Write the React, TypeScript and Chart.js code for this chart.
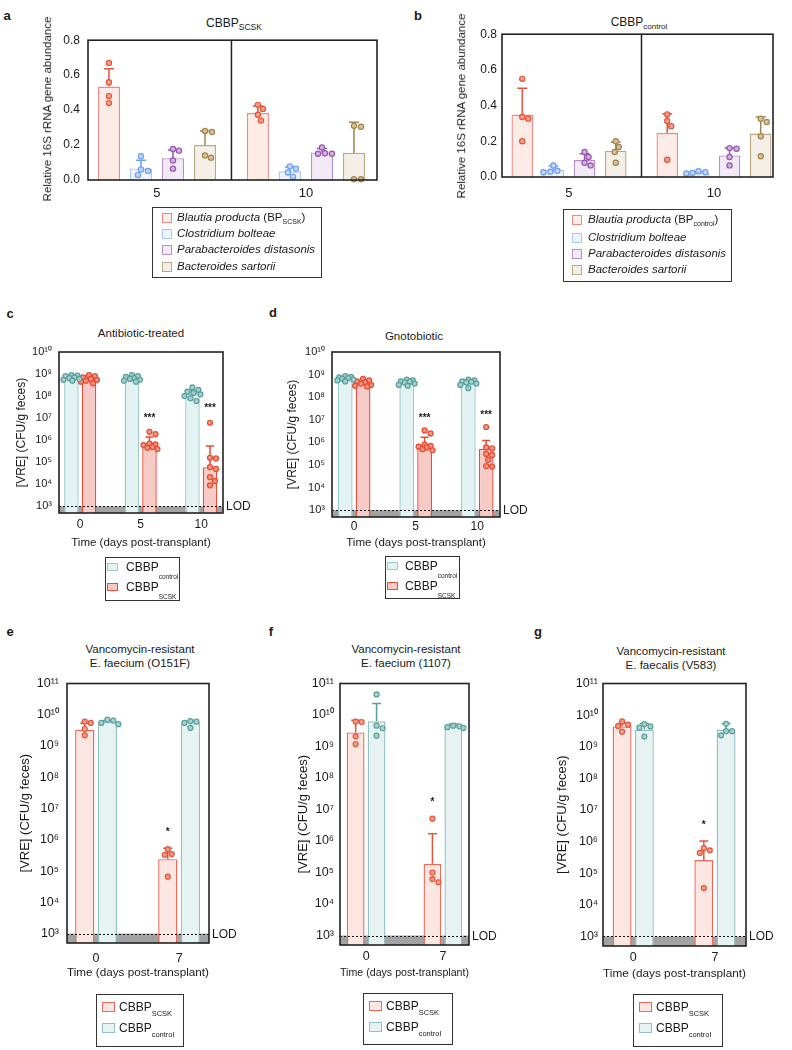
import React, { useEffect, useRef } from "react";
import { Chart, registerables } from "chart.js";
Chart.register(...registerables);

const FONT = "'Liberation Sans', Arial, Helvetica, sans-serif";
const INK = "#1a1a1a";

// ================= DATA =================
// Panels a & b : relative 16S rRNA gene abundance
const abDays = ["5", "10"];
const abTicks = [0, 0.2, 0.4, 0.6, 0.8];

// a : CBBP SCSK
const aBlautiaMean = [0.535, 0.383];
const aBlautiaErr = [0.637, 0.424];
const aBlautiaPts = [[0.67, 0.56, 0.48, 0.44], [0.43, 0.407, 0.373, 0.34]];
const aClostMean = [0.066, 0.05];
const aClostErr = [0.113, 0.075];
const aClostPts = [[0.136, 0.06, 0.052, 0.028], [0.078, 0.065, 0.043, 0.018]];
const aParaMean = [0.125, 0.158];
const aParaErr = [0.172, 0.18];
const aParaPts = [[0.177, 0.168, 0.112, 0.065], [0.186, 0.153, 0.15, 0.15]];
const aBactMean = [0.2, 0.155];
const aBactErr = [0.28, 0.33];
const aBactPts = [[0.28, 0.275, 0.14, 0.128], [0.31, 0.305, 0.004, 0.004]];

// b : CBBP control
const bBlautiaMean = [0.35, 0.246];
const bBlautiaErr = [0.497, 0.355];
const bBlautiaPts = [[0.55, 0.336, 0.327, 0.2], [0.351, 0.314, 0.285, 0.097]];
const bClostMean = [0.04, 0.024];
const bClostErr = [0.062, 0.03];
const bClostPts = [[0.065, 0.035, 0.03, 0.027], [0.032, 0.027, 0.022, 0.02]];
const bParaMean = [0.095, 0.121];
const bParaErr = [0.13, 0.162];
const bParaPts = [[0.14, 0.112, 0.08, 0.065], [0.162, 0.158, 0.112, 0.065]];
const bBactMean = [0.147, 0.243];
const bBactErr = [0.196, 0.336];
const bBactPts = [[0.2, 0.168, 0.14, 0.08], [0.327, 0.308, 0.228, 0.116]];

// Panels c & d : [VRE] after transplant
const cdDays = ["0", "5", "10"];
const cdTicks = [1e3, 1e4, 1e5, 1e6, 1e7, 1e8, 1e9, 1e10];
const cdSig = ["", "***", "***"];

const cCtrlMean = [7e8, 6.5e8, 1.3e8];
const cCtrlErr = [8.5e8, 7.8e8, 1.7e8];
const cCtrlPts = [
  [9e8, 8.5e8, 8e8, 7e8, 6.5e8, 6e8, 5.5e8, 5e8],
  [9e8, 8e8, 7.5e8, 6.5e8, 6e8, 5.5e8, 5e8, 4.5e8],
  [2.5e8, 1.9e8, 1.6e8, 1.4e8, 1.2e8, 1e8, 8e7, 6e7],
];
const cScskMean = [6.5e8, 7.5e5, 6e4];
const cScskErr = [8.3e8, 1.4e6, 5.5e5];
const cScskPts = [
  [9e8, 8e8, 7e8, 6e8, 5.5e8, 5e8, 4.5e8, 3.8e8],
  [2.4e6, 1.9e6, 7e5, 6.5e5, 6e5, 5e5, 4.5e5, 4e5],
  [6.2e6, 1.6e5, 1.5e5, 6e4, 5e4, 2.1e4, 1.4e4, 9e3],
];

const dCtrlMean = [6.3e8, 4.3e8, 4.4e8];
const dCtrlErr = [7.5e8, 5.2e8, 5.2e8];
const dCtrlPts = [
  [8.5e8, 8e8, 7.5e8, 7e8, 6.5e8, 6e8, 5.5e8, 5e8],
  [6e8, 5.5e8, 5e8, 4.8e8, 4.5e8, 4e8, 3.5e8, 3.2e8],
  [6e8, 5.5e8, 5e8, 4.8e8, 4.5e8, 4e8, 3.5e8, 2.5e8],
];
const dScskMean = [4e8, 8e5, 5.2e5];
const dScskErr = [5e8, 1.7e6, 1.2e6];
const dScskPts = [
  [6.5e8, 5.5e8, 5e8, 4.5e8, 4e8, 3.5e8, 3.2e8, 3e8],
  [3.4e6, 2.5e6, 8e5, 7e5, 6.5e5, 6e5, 5e5, 4.5e5],
  [4.8e6, 6e5, 5.5e5, 3.1e5, 2.8e5, 1.7e5, 9e4, 8.5e4],
];

// Panels e, f, g : different VRE strains
const efgDays = ["0", "7"];
const efgTicks = [1e3, 1e4, 1e5, 1e6, 1e7, 1e8, 1e9, 1e10, 1e11];
const efgSig = ["", "*"];
const lodValue = 1e3;

const eScskMean = [3.3e9, 2.4e5];
const eScskErr = [5.4e9, 5.4e5];
const eScskPts = [[6e9, 5.5e9, 3.5e9, 2.2e9], [5e5, 3.5e5, 3.3e5, 6.6e4]];
const eCtrlMean = [5.9e9, 5.8e9];
const eCtrlErr = [6.5e9, 6.3e9];
const eCtrlPts = [[7e9, 6.5e9, 5.5e9, 5e9], [6.3e9, 6e9, 5.5e9, 3.8e9]];

const fScskMean = [2.8e9, 1.9e5];
const fScskErr = [6.8e9, 1.7e6];
const fScskPts = [[6.2e9, 6e9, 2.1e9, 1.2e9], [5.1e6, 1e5, 6.2e4, 4.9e4]];
const fCtrlMean = [6.3e9, 4.8e9];
const fCtrlErr = [2.3e10, 5.2e9];
const fCtrlPts = [[4.5e10, 4.6e9, 3.8e9, 2.2e9], [4.6e9, 4.4e9, 4.1e9, 3.9e9]];

const gScskMean = [4.4e9, 2.6e5];
const gScskErr = [5.4e9, 1.05e6];
const gScskPts = [[6.3e9, 5e9, 4.5e9, 3e9], [6.2e5, 5.3e5, 4.4e5, 3.4e4]];
const gCtrlMean = [3.5e9, 3.5e9];
const gCtrlErr = [5.4e9, 5.4e9];
const gCtrlPts = [[5.2e9, 4.4e9, 4e9, 2.1e9], [5.3e9, 3.1e9, 3.1e9, 2.3e9]];

// ================= STYLES =================
const S_RED_AB = { border: "#f08a84", fill: "#fcebe6", ptStroke: "#e2553d", ptFill: "#f3a08c" };
const S_BLUE_AB = { border: "#a8c8f4", fill: "#edf4fd", ptStroke: "#6c9ff0", ptFill: "#c2d8f8" };
const S_PURP_AB = { border: "#b98fcc", fill: "#f3eaf7", ptStroke: "#9558ae", ptFill: "#d2b2e0" };
const S_BROWN_AB = { border: "#bda784", fill: "#f5f0e7", ptStroke: "#a3844e", ptFill: "#d6c29c" };
const S_TEAL_CD = { border: "#9ccac8", fill: "#e3f2f2", ptStroke: "#5a9e9b", ptFill: "#a2d1ce" };
const S_RED_CD = { border: "#ea4d3e", fill: "#f7cbc5", ptStroke: "#e34b33", ptFill: "#f3947e" };
const S_RED_EFG = { border: "#ec6a5a", fill: "#fbe6e1", ptStroke: "#e2573d", ptFill: "#f19c86" };
const S_TEAL_EFG = { border: "#92c2bf", fill: "#e7f3f2", ptStroke: "#5c9f9c", ptFill: "#a6d2cf" };

const SUP = "⁰¹²³⁴⁵⁶⁷⁸⁹";
const powLabel = (v: number) =>
  "10" + String(Math.round(Math.log10(v))).split("").map((d) => SUP[+d]).join("");

// ================= CHART PANEL =================
type Series = { mean: number[]; err: number[]; pts: number[][]; style: any };
type Spec = {
  box: number[];
  plot: number[];
  xLabels: string[];
  xRange: number[];
  yLog: boolean;
  yRange: number[];
  yTicks: number[];
  yTitle: string;
  yTitleX: number;
  yTitleFont: number;
  yTitleHtml?: boolean;
  xTitle?: string;
  xTitleY?: number;
  xTitleFont?: number;
  yTickFont: number;
  xTickFont: number;
  yPad: number;
  xPad: number;
  series: Series[];
  catPct: number;
  barPct: number;
  r: number;
  cap: number;
  lod?: number;
  divider?: number;
  sig?: string[];
  sigSeries?: number;
  sigGap?: number;
};

function ChartPanel({ spec }: { spec: Spec }) {
  const ref = useRef<HTMLCanvasElement | null>(null);
  const [bl, bt, br, bb] = spec.box;
  const [pl, pt, pr, pb] = spec.plot;
  const W = br - bl;
  const H = bb - bt;

  useEffect(() => {
    if (!ref.current) return;
    const nS = spec.series.length;
    const yTitleLH = spec.yTitleFont * 1.2;
    const yW = pl - spec.yTitleX + yTitleLH / 2;
    const xH = spec.xTitle ? (spec.xTitleY as number) - pb + (spec.xTitleFont as number) * 0.6 : 24;
    const datasets: any[] = [];
    spec.series.forEach((s) => {
      datasets.push({
        type: "bar",
        order: 2,
        data: s.mean.map((m, i) => ({ x: i, y: m })),
        backgroundColor: s.style.fill,
        borderColor: s.style.border,
        borderWidth: 1.4,
        categoryPercentage: spec.catPct,
        barPercentage: spec.barPct,
        errTops: s.err,
        errColor: s.style.ptStroke,
      });
    });
    spec.series.forEach((s, si) => {
      const off = ((si - (nS - 1) / 2) * spec.catPct) / nS;
      const data: any[] = [];
      s.pts.forEach((vals, i) => vals.forEach((v) => data.push({ x: i + off, y: v, cx: i + off, g: i })));
      datasets.push({
        type: "scatter",
        order: 1,
        data,
        pointRadius: spec.r,
        pointBackgroundColor: s.style.ptFill,
        pointBorderColor: s.style.ptStroke,
        pointBorderWidth: 1.2,
        clip: false,
      });
    });

    const decor = {
      id: "decor",
      beforeDatasetsDraw(chart: any) {
        if (spec.lod === undefined) return;
        const { ctx, chartArea: ca } = chart;
        const y = chart.scales.y.getPixelForValue(spec.lod);
        ctx.save();
        ctx.fillStyle = "#a2a2a2";
        ctx.fillRect(ca.left, y, ca.right - ca.left, ca.bottom - y);
        ctx.restore();
      },
      afterDatasetDraw(chart: any, args: any) {
        const ds = chart.data.datasets[args.index];
        if (ds.type !== "bar") return;
        const ctx = chart.ctx;
        const ys = chart.scales.y;
        ctx.save();
        ctx.strokeStyle = ds.errColor;
        ctx.lineWidth = 1.5;
        args.meta.data.forEach((bar: any, i: number) => {
          const top = ys.getPixelForValue(ds.errTops[i]);
          ctx.beginPath();
          ctx.moveTo(bar.x, bar.y);
          ctx.lineTo(bar.x, top);
          ctx.moveTo(bar.x - spec.cap, top);
          ctx.lineTo(bar.x + spec.cap, top);
          ctx.stroke();
        });
        ctx.restore();
      },
      afterDatasetsDraw(chart: any) {
        const { ctx, chartArea: ca } = chart;
        ctx.save();
        if (spec.lod !== undefined) {
          const y = Math.round(chart.scales.y.getPixelForValue(spec.lod)) + 0.5;
          ctx.strokeStyle = "#111";
          ctx.lineWidth = 1;
          ctx.setLineDash([2, 2]);
          ctx.beginPath();
          ctx.moveTo(ca.left, y);
          ctx.lineTo(ca.right, y);
          ctx.stroke();
          ctx.setLineDash([]);
          ctx.fillStyle = INK;
          ctx.font = `12px ${FONT}`;
          ctx.textAlign = "left";
          ctx.textBaseline = "middle";
          ctx.fillText("LOD", ca.right + 3, y);
        }
        if (spec.divider !== undefined) {
          const x = chart.scales.x.getPixelForValue(spec.divider);
          ctx.strokeStyle = "#222";
          ctx.lineWidth = 1.5;
          ctx.beginPath();
          ctx.moveTo(x, ca.top);
          ctx.lineTo(x, ca.bottom);
          ctx.stroke();
        }
        ctx.strokeStyle = "#222";
        ctx.lineWidth = 1.6;
        ctx.strokeRect(ca.left, ca.top, ca.right - ca.left, ca.bottom - ca.top);
        if (spec.sig) {
          const si = spec.sigSeries as number;
          const ser = spec.series[si];
          const meta = chart.getDatasetMeta(si);
          ctx.fillStyle = INK;
          ctx.font = `bold 10px ${FONT}`;
          ctx.textAlign = "center";
          ctx.textBaseline = "middle";
          spec.sig.forEach((s, i) => {
            if (!s) return;
            const top = Math.max(ser.err[i], ...ser.pts[i]);
            const y = chart.scales.y.getPixelForValue(top) - (spec.sigGap as number);
            ctx.fillText(s, meta.data[i].x, y);
          });
        }
        ctx.restore();
      },
    };

    const chart = new Chart(ref.current, {
      type: "bar",
      data: { datasets },
      plugins: [decor],
      options: {
        animation: false,
        responsive: false,
        events: [],
        layout: {
          padding: {
            left: pl - bl - yW,
            top: pt - bt,
            right: br - pr,
            bottom: bb - pb - xH,
          },
        },
        plugins: { legend: { display: false }, tooltip: { enabled: false }, title: { display: false } },
        scales: {
          x: {
            type: "linear",
            min: spec.xRange[0],
            max: spec.xRange[1],
            offset: false,
            grid: { display: false, drawTicks: false, offset: false },
            border: { display: false },
            afterBuildTicks: (s: any) => {
              s.ticks = spec.xLabels.map((_, i) => ({ value: i }));
            },
            ticks: {
              autoSkip: false,
              maxRotation: 0,
              padding: spec.xPad,
              color: INK,
              font: { family: FONT, size: spec.xTickFont },
              callback: (v: any) => spec.xLabels[Math.round(v)] ?? "",
            },
            title: spec.xTitle
              ? { display: true, text: spec.xTitle, color: INK, padding: 0, font: { family: FONT, size: spec.xTitleFont } }
              : { display: false },
            afterFit: (s: any) => {
              s.height = xH;
            },
          },
          y: {
            type: spec.yLog ? "logarithmic" : "linear",
            min: spec.yRange[0],
            max: spec.yRange[1],
            grid: { display: false, drawTicks: false },
            border: { display: false },
            afterBuildTicks: (s: any) => {
              s.ticks = spec.yTicks.map((v) => ({ value: v }));
            },
            ticks: {
              autoSkip: false,
              padding: spec.yPad,
              color: INK,
              font: { family: FONT, size: spec.yTickFont },
              callback: (v: any) => (spec.yLog ? powLabel(v) : Number(v).toFixed(1)),
            },
            title: {
              display: !spec.yTitleHtml,
              text: spec.yTitle,
              color: INK,
              padding: 0,
              font: { family: FONT, size: spec.yTitleFont },
            },
            afterFit: (s: any) => {
              s.width = yW;
            },
          },
        },
      } as any,
    });

    // beeswarm placement of the individual points, using the library's scales
    const xs: any = chart.scales.x;
    const ys: any = chart.scales.y;
    const unit = xs.getPixelForValue(1) - xs.getPixelForValue(0);
    const halfBar = (unit * spec.catPct * spec.barPct) / nS / 2;
    const minD = spec.r * 2 + 1;
    const maxOff = Math.round(halfBar + 1);
    chart.data.datasets.forEach((ds: any) => {
      if (ds.type !== "scatter") return;
      const groups: Record<number, any[]> = {};
      ds.data.forEach((p: any) => {
        (groups[p.g] = groups[p.g] || []).push(p);
      });
      Object.values(groups).forEach((list) => {
        const sorted = [...list].sort((a, b) => b.y - a.y);
        const placed: { off: number; py: number }[] = [];
        sorted.forEach((p) => {
          const py = ys.getPixelForValue(p.y);
          let best = 0;
          let bestD = -1;
          for (let k = 0; k <= maxOff * 2; k++) {
            const off = k % 2 === 1 ? (k + 1) / 2 : -k / 2;
            let md = Infinity;
            placed.forEach((q) => {
              md = Math.min(md, Math.hypot(off - q.off, py - q.py));
            });
            if (md >= minD) {
              best = off;
              bestD = Infinity;
              break;
            }
            if (md > bestD) {
              bestD = md;
              best = off;
            }
          }
          placed.push({ off: best, py });
          p.x = p.cx + best / unit;
        });
      });
    });
    chart.update();
    return () => chart.destroy();
  }, []);

  const titleW = 240;
  const titleLH = spec.yTitleFont * 1.2;
  return (
    <>
      <canvas
        ref={ref}
        width={W}
        height={H}
        style={{ position: "absolute", left: bl, top: bt, width: W, height: H }}
      />
      {spec.yTitleHtml && (
        <div
          style={{
            position: "absolute",
            left: spec.yTitleX - titleW / 2,
            top: (pt + pb) / 2 - titleLH / 2,
            width: titleW,
            height: titleLH,
            lineHeight: `${titleLH}px`,
            fontSize: spec.yTitleFont,
            fontFamily: FONT,
            color: INK,
            textAlign: "center",
            whiteSpace: "nowrap",
            transform: "rotate(-90deg)",
          }}
        >
          {spec.yTitle}
        </div>
      )}
    </>
  );
}

// ================= HTML TEXT HELPERS =================
function Txt({ x, y, size = 12, align = "center", bold = false, italic = false, w = 320, children }: any) {
  const left = align === "center" ? x - w / 2 : align === "left" ? x : x - w;
  return (
    <div
      style={{
        position: "absolute",
        left,
        top: y - size * 0.6,
        width: w,
        height: size * 1.2,
        lineHeight: `${size * 1.2}px`,
        fontSize: size,
        fontFamily: FONT,
        textAlign: align,
        fontWeight: bold ? 700 : 400,
        fontStyle: italic ? "italic" : "normal",
        color: INK,
        whiteSpace: "nowrap",
      }}
    >
      {children}
    </div>
  );
}

function Sub({ size, drop, children }: any) {
  return <span style={{ fontSize: size, verticalAlign: `${-drop}px`, fontStyle: "normal" }}>{children}</span>;
}

function Legend({ box, rows, sw, textX, size, italic }: any) {
  const [l, t, r, b] = box;
  return (
    <>
      <div
        style={{
          position: "absolute",
          left: l,
          top: t,
          width: r - l,
          height: b - t,
          border: "1.3px solid #333",
          boxSizing: "border-box",
        }}
      />
      {rows.map((row: any, i: number) => (
        <React.Fragment key={i}>
          <div
            style={{
              position: "absolute",
              left: sw[0],
              top: row.y - sw[2] / 2,
              width: sw[1],
              height: sw[2],
              border: `1.2px solid ${row.style.border}`,
              background: row.style.fill,
              boxSizing: "border-box",
            }}
          />
          <Txt x={textX} y={row.y} size={size} align="left" italic={italic}>
            {row.content}
          </Txt>
        </React.Fragment>
      ))}
    </>
  );
}

// ================= PANEL SPECS =================
const abCommon = {
  xLabels: abDays,
  yLog: false,
  yRange: [0, 0.8],
  yTicks: abTicks,
  yTitle: "Relative 16S rRNA gene abundance",
  yTitleFont: 11.5,
  yTitleHtml: true,
  yTickFont: 12,
  xTickFont: 13,
  catPct: 0.86,
  barPct: 0.69,
  r: 2.6,
  cap: 5,
  divider: 0.5,
};

const specA: Spec = {
  ...abCommon,
  box: [0, 25, 388, 206],
  plot: [88, 37, 377, 180],
  xRange: [-0.463, 1.477],
  yTitleX: 48,
  yPad: 8,
  xPad: 6,
  series: [
    { mean: aBlautiaMean, err: aBlautiaErr, pts: aBlautiaPts, style: S_RED_AB },
    { mean: aClostMean, err: aClostErr, pts: aClostPts, style: S_BLUE_AB },
    { mean: aParaMean, err: aParaErr, pts: aParaPts, style: S_PURP_AB },
    { mean: aBactMean, err: aBactErr, pts: aBactPts, style: S_BROWN_AB },
  ],
};

const specB: Spec = {
  ...abCommon,
  box: [400, 22, 788, 204],
  plot: [502, 34, 773, 177],
  xRange: [-0.462, 1.407],
  yTitleX: 462,
  yPad: 5,
  xPad: 9,
  series: [
    { mean: bBlautiaMean, err: bBlautiaErr, pts: bBlautiaPts, style: S_RED_AB },
    { mean: bClostMean, err: bClostErr, pts: bClostPts, style: S_BLUE_AB },
    { mean: bParaMean, err: bParaErr, pts: bParaPts, style: S_PURP_AB },
    { mean: bBactMean, err: bBactErr, pts: bBactPts, style: S_BROWN_AB },
  ],
};

const cdCommon = {
  xLabels: cdDays,
  yLog: true,
  yRange: [500, 1e10],
  yTicks: cdTicks,
  yTitle: "[VRE] (CFU/g feces)",
  yTitleFont: 12,
  xTitle: "Time (days post-transplant)",
  xTitleFont: 11.5,
  yTickFont: 11,
  xTickFont: 12,
  catPct: 0.58,
  barPct: 0.83,
  r: 2.5,
  cap: 4,
  lod: lodValue,
  sig: cdSig,
  sigSeries: 1,
};

const specC: Spec = {
  ...cdCommon,
  box: [0, 338, 252, 556],
  plot: [59, 352, 223, 513],
  xRange: [-0.35, 2.36],
  yTitleX: 22,
  xTitleY: 543,
  yPad: 7,
  xPad: 4,
  sigGap: 14,
  series: [
    { mean: cCtrlMean, err: cCtrlErr, pts: cCtrlPts, style: S_TEAL_CD },
    { mean: cScskMean, err: cScskErr, pts: cScskPts, style: S_RED_CD },
  ],
};

const specD: Spec = {
  ...cdCommon,
  box: [270, 338, 530, 560],
  plot: [332, 352, 500, 517],
  xRange: [-0.36, 2.37],
  yTitleX: 293,
  xTitleY: 543,
  yPad: 7,
  xPad: 2,
  sigGap: 12,
  series: [
    { mean: dCtrlMean, err: dCtrlErr, pts: dCtrlPts, style: S_TEAL_CD },
    { mean: dScskMean, err: dScskErr, pts: dScskPts, style: S_RED_CD },
  ],
};

const efgCommon = {
  xLabels: efgDays,
  yLog: true,
  yRange: [500, 1e11],
  yTicks: efgTicks,
  yTitle: "[VRE] (CFU/g feces)",
  yTitleFont: 13,
  xTitle: "Time (days post-transplant)",
  xTitleFont: 11.8,
  yTickFont: 12.5,
  xTickFont: 12.5,
  catPct: 0.545,
  barPct: 0.85,
  r: 2.5,
  cap: 4.5,
  lod: lodValue,
  sig: efgSig,
  sigSeries: 0,
  sigGap: 16,
};

const specE: Spec = {
  ...efgCommon,
  box: [0, 668, 245, 992],
  plot: [67, 680, 209, 943],
  xRange: [-0.35, 1.36],
  yTitleX: 25,
  xTitleY: 973,
  yPad: 8,
  xPad: 8,
  series: [
    { mean: eScskMean, err: eScskErr, pts: eScskPts, style: S_RED_EFG },
    { mean: eCtrlMean, err: eCtrlErr, pts: eCtrlPts, style: S_TEAL_EFG },
  ],
};

const specF: Spec = {
  ...efgCommon,
  box: [280, 670, 505, 994],
  plot: [340, 682, 469, 945],
  xRange: [-0.34, 1.34],
  yTitleX: 303,
  xTitleY: 973,
  yPad: 6,
  xPad: 4,
  series: [
    { mean: fScskMean, err: fScskErr, pts: fScskPts, style: S_RED_EFG },
    { mean: fCtrlMean, err: fCtrlErr, pts: fCtrlPts, style: S_TEAL_EFG },
  ],
};

const specG: Spec = {
  ...efgCommon,
  box: [540, 671, 790, 994],
  plot: [603, 683, 746, 946],
  xRange: [-0.37, 1.38],
  yTitleX: 562,
  xTitleY: 974,
  yPad: 5,
  xPad: 4,
  series: [
    { mean: gScskMean, err: gScskErr, pts: gScskPts, style: S_RED_EFG },
    { mean: gCtrlMean, err: gCtrlErr, pts: gCtrlPts, style: S_TEAL_EFG },
  ],
};

// ================= APP =================
function AbLegend({ box, rowsY, sw, textX, bpSub }: any) {
  const rows = [
    {
      y: rowsY[0],
      style: S_RED_AB,
      content: (
        <>
          Blautia producta <span style={{ fontStyle: "normal" }}>(BP</span>
          <Sub size={7} drop={3}>
            {bpSub}
          </Sub>
          <span style={{ fontStyle: "normal" }}>)</span>
        </>
      ),
    },
    { y: rowsY[1], style: S_BLUE_AB, content: "Clostridium bolteae" },
    { y: rowsY[2], style: S_PURP_AB, content: "Parabacteroides distasonis" },
    { y: rowsY[3], style: S_BROWN_AB, content: "Bacteroides sartorii" },
  ];
  return <Legend box={box} rows={rows} sw={sw} textX={textX} size={11.5} italic />;
}

function CbbpLegend({ box, first, second, sw, textX, rowsY, subSize, drop }: any) {
  const rows = [
    { y: rowsY[0], style: first.style, content: <>CBBP<Sub size={subSize} drop={drop}>{first.sub}</Sub></> },
    { y: rowsY[1], style: second.style, content: <>CBBP<Sub size={subSize} drop={drop}>{second.sub}</Sub></> },
  ];
  return <Legend box={box} rows={rows} sw={sw} textX={textX} size={12} italic={false} />;
}

export default function App() {
  return (
    <div
      style={{
        position: "absolute",
        left: 0,
        top: 0,
        width: 792,
        height: 1050,
        background: "#fff",
        overflow: "hidden",
      }}
    >
      {/* panel letters */}
      <Txt x={7} y={16} size={13} bold w={20}>a</Txt>
      <Txt x={418} y={16} size={13} bold w={20}>b</Txt>
      <Txt x={10} y={314} size={13} bold w={20}>c</Txt>
      <Txt x={273} y={313} size={13} bold w={20}>d</Txt>
      <Txt x={10} y={632} size={13} bold w={20}>e</Txt>
      <Txt x={271} y={632} size={13} bold w={20}>f</Txt>
      <Txt x={538} y={632} size={13} bold w={20}>g</Txt>

      {/* panel titles */}
      <Txt x={234} y={23} size={12}>
        CBBP<Sub size={8.5} drop={3}>SCSK</Sub>
      </Txt>
      <Txt x={639} y={22} size={12}>
        CBBP<Sub size={8} drop={3}>control</Sub>
      </Txt>
      <Txt x={141} y={334} size={11.5}>Antibiotic-treated</Txt>
      <Txt x={414} y={337} size={11.5}>Gnotobiotic</Txt>
      <Txt x={140} y={650} size={11.5}>Vancomycin-resistant</Txt>
      <Txt x={140} y={664} size={11.5}>E. faecium (O151F)</Txt>
      <Txt x={406} y={650} size={11.5}>Vancomycin-resistant</Txt>
      <Txt x={406} y={664} size={11.5}>E. faecium (1107)</Txt>
      <Txt x={671} y={652} size={11.5}>Vancomycin-resistant</Txt>
      <Txt x={671} y={666} size={11.5}>E. faecalis (V583)</Txt>

      <ChartPanel spec={specA} />
      <ChartPanel spec={specB} />
      <ChartPanel spec={specC} />
      <ChartPanel spec={specD} />
      <ChartPanel spec={specE} />
      <ChartPanel spec={specF} />
      <ChartPanel spec={specG} />

      {/* legends */}
      <AbLegend box={[152, 207, 322, 278]} rowsY={[218, 234, 250, 267]} sw={[162, 10, 10]} textX={177} bpSub="SCSK" />
      <AbLegend box={[563, 209, 732, 282]} rowsY={[220, 238, 254, 270]} sw={[572, 10, 10]} textX={588} bpSub="control" />

      <CbbpLegend
        box={[105, 557, 180, 601]}
        rowsY={[567, 587]}
        sw={[107, 11, 8]}
        textX={126}
        subSize={6.5}
        drop={8}
        first={{ style: S_TEAL_CD, sub: "control" }}
        second={{ style: S_RED_CD, sub: "SCSK" }}
      />
      <CbbpLegend
        box={[385, 556, 460, 599]}
        rowsY={[566, 586]}
        sw={[387, 11, 8]}
        textX={405}
        subSize={6.5}
        drop={8}
        first={{ style: S_TEAL_CD, sub: "control" }}
        second={{ style: S_RED_CD, sub: "SCSK" }}
      />
      <CbbpLegend
        box={[96, 994, 184, 1047]}
        rowsY={[1007, 1028]}
        sw={[102, 13, 10]}
        textX={119}
        subSize={7.5}
        drop={5}
        first={{ style: S_RED_EFG, sub: "SCSK" }}
        second={{ style: S_TEAL_EFG, sub: "control" }}
      />
      <CbbpLegend
        box={[363, 993, 453, 1045]}
        rowsY={[1006, 1027]}
        sw={[369, 13, 10]}
        textX={386}
        subSize={7.5}
        drop={5}
        first={{ style: S_RED_EFG, sub: "SCSK" }}
        second={{ style: S_TEAL_EFG, sub: "control" }}
      />
      <CbbpLegend
        box={[633, 994, 723, 1047]}
        rowsY={[1007, 1028]}
        sw={[639, 13, 10]}
        textX={656}
        subSize={7.5}
        drop={5}
        first={{ style: S_RED_EFG, sub: "SCSK" }}
        second={{ style: S_TEAL_EFG, sub: "control" }}
      />
    </div>
  );
}
